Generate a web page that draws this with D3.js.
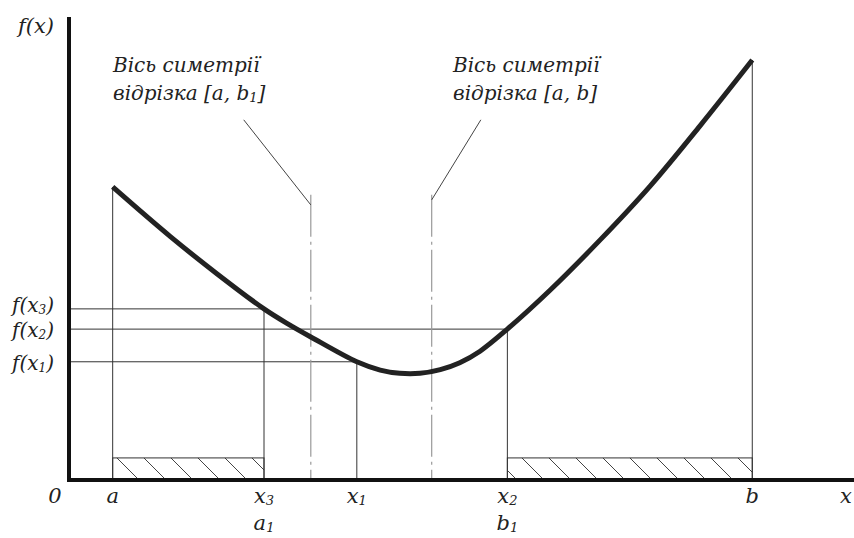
<!DOCTYPE html>
<html>
  <head>
    <meta charset="UTF-8" />
    <script src="https://cdnjs.cloudflare.com/ajax/libs/d3/7.8.5/d3.min.js"></script>
    <style>
      body { margin: 0; background: #fff; }
      svg { display: block; }
      text { font-family: "DejaVu Serif", "Liberation Serif", serif; font-style: italic; fill: #222; }
      .axis { stroke: #111; stroke-width: 4; }
      .thin { stroke: #333; stroke-width: 1; fill: none; }
      .sym { stroke: #999; stroke-width: 1.2; stroke-dasharray: 42 5 3 5; }
      .leader { stroke: #444; stroke-width: 1; }
      path.curve { fill: none; stroke: #222; stroke-width: 5; stroke-linejoin: round; }
      rect.hatch { fill: url(#hatch); stroke: #333; stroke-width: 1; }
    </style>
  </head>
  <body>
    <svg width="854" height="538"></svg>
    <script>
      // curve of f(x)
      var curveX = [0.56, 1.30, 1.90, 2.5, 2.80, 3.10, 3.69, 3.99, 4.24, 4.50, 4.76, 5.01, 5.27, 5.62, 6.17, 6.81, 7.45, 8.09, 8.76];
      var curveY = [6.37, 5.29, 4.48, 3.72, 3.40, 3.11, 2.57, 2.39, 2.32, 2.32, 2.40, 2.55, 2.80, 3.28, 4.13, 5.22, 6.39, 7.70, 9.13];

      // points on the x axis and their function values
      var pointNames = ["a", "x3", "x1", "x2", "b"];
      var pointX = [0.56, 2.5, 3.69, 5.62, 8.76];
      var pointF = [6.37, 3.72, 2.57, 3.28, 9.13];

      // levels marked on the y axis
      var levelNames = ["x3", "x2", "x1"];
      var levelF = [3.72, 3.28, 2.57];

      // symmetry axes: [a, b1] and [a, b]
      var symX = [3.10, 4.65];
      var symTop = 6.2;
      var leaderFrom = [[2.24, 7.83], [5.28, 7.83]];
      var leaderTo = [[3.10, 5.98], [4.65, 6.09]];
      var symLabel2 = [["[a, b", "1", "]"], ["[a, b", "", "]"]];

      // discarded parts of the segment
      var hatchFrom = [0.56, 5.62];
      var hatchTo = [2.5, 8.76];
      var hatchH = 0.48;

      var svg = d3.select("svg");
      var x = d3.scaleLinear().domain([0, 10]).range([69, 849]);
      var y = d3.scaleLinear().domain([0, 10]).range([480, 20]);

      svg.append("defs").append("pattern")
        .attr("id", "hatch")
        .attr("patternUnits", "userSpaceOnUse")
        .attr("x", 10).attr("y", 0)
        .attr("width", 27).attr("height", 27)
        .append("path")
        .attr("d", "M-27,0L0,27M0,0L27,27M27,0L54,27")
        .attr("stroke", "#444").attr("stroke-width", 1);

      // hatched bars
      svg.selectAll("rect.hatch")
        .data(d3.range(hatchFrom.length))
        .enter().append("rect")
        .attr("class", "hatch")
        .attr("x", i => x(hatchFrom[i]))
        .attr("y", y(hatchH))
        .attr("width", i => x(hatchTo[i]) - x(hatchFrom[i]))
        .attr("height", y(0) - y(hatchH));

      // horizontal level lines
      svg.selectAll("line.level")
        .data(levelF)
        .enter().append("line")
        .attr("class", "thin")
        .attr("x1", x(0)).attr("x2", (d, i) => x(pointX[pointNames.indexOf(levelNames[i])]))
        .attr("y1", d => y(d)).attr("y2", d => y(d));

      // vertical lines at the points
      svg.selectAll("line.drop")
        .data(pointX)
        .enter().append("line")
        .attr("class", "thin")
        .attr("x1", d => x(d)).attr("x2", d => x(d))
        .attr("y1", (d, i) => y(pointF[i])).attr("y2", y(0));

      // symmetry axes and leaders
      svg.selectAll("line.sym")
        .data(symX)
        .enter().append("line")
        .attr("class", "sym")
        .attr("x1", d => x(d)).attr("x2", d => x(d))
        .attr("y1", y(symTop)).attr("y2", y(0));

      svg.selectAll("line.leader")
        .data(leaderFrom)
        .enter().append("line")
        .attr("class", "leader")
        .attr("x1", d => x(d[0])).attr("y1", d => y(d[1]))
        .attr("x2", (d, i) => x(leaderTo[i][0])).attr("y2", (d, i) => y(leaderTo[i][1]));

      var symTextX = [113, 453];
      symTextX.forEach(function (tx, i) {
        svg.append("text").attr("x", tx).attr("y", 72)
          .style("font-size", "20px").text("Вісь симетрії");
        var t = svg.append("text").attr("x", tx).attr("y", 100).style("font-size", "20px");
        t.append("tspan").text("відрізка " + symLabel2[i][0]);
        if (symLabel2[i][1]) t.append("tspan").attr("dy", 2).style("font-size", "13px").text(symLabel2[i][1]);
        t.append("tspan").attr("dy", symLabel2[i][1] ? -2 : 0).text(symLabel2[i][2]);
      });

      // the curve
      var line = d3.line().x(d => x(d[0])).y(d => y(d[1])).curve(d3.curveCatmullRom);
      svg.append("path")
        .attr("class", "curve")
        .attr("d", line(d3.zip(curveX, curveY)));

      // axes
      svg.append("line").attr("class", "axis")
        .attr("x1", x(0)).attr("x2", 854).attr("y1", y(0)).attr("y2", y(0));
      svg.append("line").attr("class", "axis")
        .attr("x1", x(0)).attr("x2", x(0)).attr("y1", y(0) + 2).attr("y2", y(10) - 3);

      function subLabel(sel, base, sub) {
        sel.append("tspan").text(base);
        if (sub) sel.append("tspan").attr("dy", 2).style("font-size", "13px").text(sub);
      }

      svg.append("text").attr("x", 18).attr("y", 33).style("font-size", "21px").text("f(x)");
      svg.append("text").attr("x", 55).attr("y", 503).attr("text-anchor", "middle")
        .style("font-size", "21px").text("0");
      svg.append("text").attr("x", 840).attr("y", 503).style("font-size", "21px").text("x");

      // labels under the x axis
      pointNames.forEach(function (n, i) {
        var t = svg.append("text").attr("x", x(pointX[i])).attr("y", 503)
          .attr("text-anchor", "middle").style("font-size", "21px");
        subLabel(t, n[0], n.slice(1));
      });
      [["a", "1", 2.5], ["b", "1", 5.62]].forEach(function (d) {
        var t = svg.append("text").attr("x", x(d[2])).attr("y", 530)
          .attr("text-anchor", "middle").style("font-size", "21px");
        subLabel(t, d[0], d[1]);
      });

      // labels of the levels
      var levelBase = [312, 337, 370];
      levelNames.forEach(function (n, i) {
        var t = svg.append("text").attr("x", 12).attr("y", levelBase[i]).style("font-size", "20px");
        t.append("tspan").text("f(x");
        t.append("tspan").attr("dy", 2).style("font-size", "12px").text(n.slice(1));
        t.append("tspan").attr("dy", -2).text(")");
      });
    </script>
  </body>
</html>
